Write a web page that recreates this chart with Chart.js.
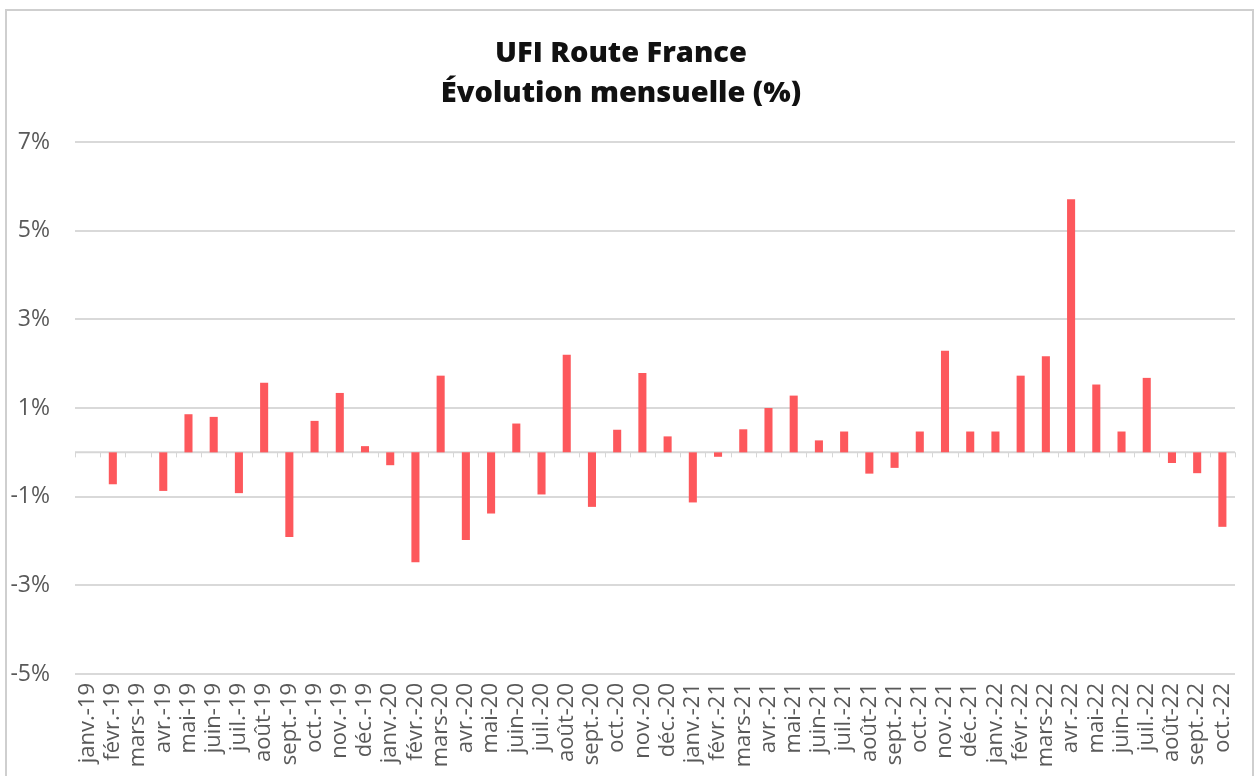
<!DOCTYPE html>
<html>
<head>
<meta charset="utf-8">
<script src="https://cdn.jsdelivr.net/npm/chart.js@4/dist/chart.umd.min.js"></script>
<style>
  html, body { margin: 0; padding: 0; background: #fff; overflow: hidden; }
  #frame {
    position: absolute; left: 5px; top: 9px;
    width: 1245px; height: 836px;
    border: 2px solid #cfcfcf;
  }
</style>
</head>
<body>
<div id="frame"><canvas id="chart" width="1245" height="836"></canvas></div>
<script>
// months jan 2019 -> oct 2022
const months = [
  'janv.-19', 'févr.-19', 'mars-19', 'avr.-19', 'mai-19', 'juin-19', 'juil.-19', 'août-19', 'sept.-19', 'oct.-19', 'nov.-19', 'déc.-19',
  'janv.-20', 'févr.-20', 'mars-20', 'avr.-20', 'mai-20', 'juin-20', 'juil.-20', 'août-20', 'sept.-20', 'oct.-20', 'nov.-20', 'déc.-20',
  'janv.-21', 'févr.-21', 'mars-21', 'avr.-21', 'mai-21', 'juin-21', 'juil.-21', 'août-21', 'sept.-21', 'oct.-21', 'nov.-21', 'déc.-21',
  'janv.-22', 'févr.-22', 'mars-22', 'avr.-22', 'mai-22', 'juin-22', 'juil.-22', 'août-22', 'sept.-22', 'oct.-22'
]

// monthly change, %
const evolution = [
  0, -0.72, 0, -0.87, 0.86, 0.80, -0.92, 1.57, -1.91, 0.71, 1.34, 0.14,
  -0.29, -2.48, 1.73, -1.98, -1.38, 0.65, -0.95, 2.20, -1.23, 0.51, 1.79, 0.36,
  -1.13, -0.10, 0.52, 1.00, 1.28, 0.27, 0.47, -0.48, -0.35, 0.47, 2.29, 0.47,
  0.47, 1.73, 2.17, 5.71, 1.53, 0.47, 1.68, -0.24, -0.47, -1.68
]

const yTicks = { min: -5, max: 7, step: 2 }
const titleLines = ['UFI Route France', 'Évolution mensuelle (%)']

// grey zero line with little marks between months
const zeroLine = {
  id: 'zeroLine',
  beforeDatasetsDraw(chart) {
    const { ctx, chartArea, scales } = chart
    const y = scales.y.getPixelForValue(0)
    const half = (scales.x.getPixelForValue(1) - scales.x.getPixelForValue(0)) / 2
    ctx.save()
    ctx.strokeStyle = '#d6d6d6'
    ctx.lineWidth = 2
    ctx.beginPath()
    ctx.moveTo(chartArea.left, y)
    ctx.lineTo(chartArea.right, y)
    ctx.stroke()
    ctx.lineWidth = 1
    ctx.beginPath()
    for (let i = 0; i <= months.length; i++) {
      const x = Math.round(scales.x.getPixelForValue(i) - half) + 0.5
      ctx.moveTo(x, y)
      ctx.lineTo(x, y + 5)
    }
    ctx.stroke()
    ctx.restore()
  }
}

const ctx = document.getElementById('chart').getContext('2d')
new Chart(ctx, {
  type: 'bar',
  data: {
    labels: months,
    datasets: [{
      data: evolution,
      backgroundColor: '#fd585c',
      categoryPercentage: 1,
      barPercentage: 0.32,
    }]
  },
  options: {
    responsive: false,
    animation: false,
    layout: { padding: { left: 0, right: 17, top: 0, bottom: 0 } },
    plugins: {
      legend: { display: false },
      tooltip: { enabled: false },
      title: {
        display: true,
        text: titleLines,
        color: '#111',
        font: { family: 'Open Sans', size: 29, weight: 800, lineHeight: 1.38 },
        padding: { top: 23, bottom: 28 },
      }
    },
    scales: {
      x: {
        grid: { display: false, drawTicks: false },
        border: { display: false },
        ticks: {
          autoSkip: false,
          maxRotation: 90,
          minRotation: 90,
          padding: 9,
          color: '#595959',
          font: { family: 'Open Sans', size: 22 },
        },
        afterFit(scale) {
          scale.height = 173
          scale.paddingLeft = 0
          scale.paddingRight = 0
        }
      },
      y: {
        min: yTicks.min,
        max: yTicks.max,
        grid: { color: '#d9d9d9', lineWidth: 2, drawTicks: false },
        border: { display: false },
        ticks: {
          stepSize: yTicks.step,
          padding: 25,
          color: '#595959',
          font: { family: 'Open Sans', size: 23 },
          callback: (v) => v + '%',
        },
        afterFit(scale) { scale.width = 68 }
      }
    }
  },
  plugins: [zeroLine]
})
</script>
</body>
</html>
